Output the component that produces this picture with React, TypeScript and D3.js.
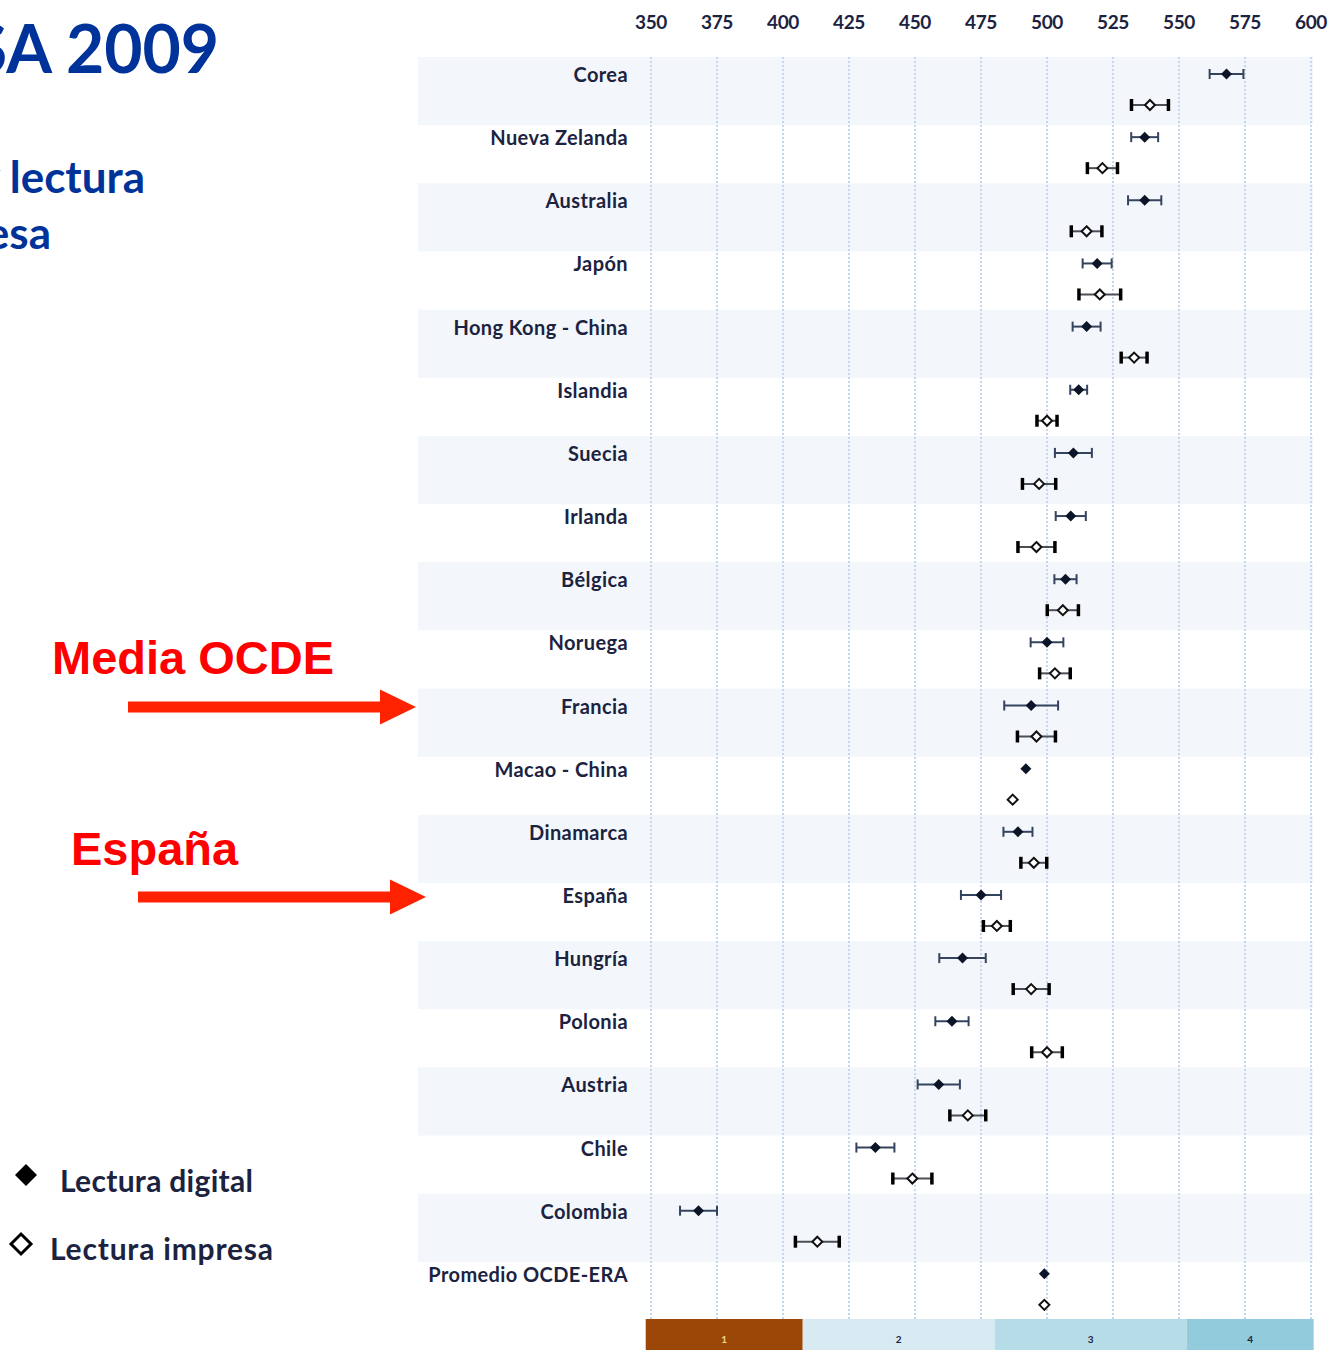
import React from "react";
import * as d3 from "d3";

// países (de arriba a abajo)
const countries = [
  "Corea", "Nueva Zelanda", "Australia", "Japón", "Hong Kong - China",
  "Islandia", "Suecia", "Irlanda", "Bélgica", "Noruega", "Francia",
  "Macao - China", "Dinamarca", "España", "Hungría", "Polonia", "Austria",
  "Chile", "Colombia", "Promedio OCDE-ERA",
];

// lectura digital: media y semiamplitud del intervalo
const digitalMean = [568, 537, 537, 519, 515, 512, 510, 509, 507, 500, 494, 492, 489, 475, 468, 464, 459, 435, 368, 499];
const digitalErr = [6.4, 5.1, 6.3, 5.5, 5.3, 3.2, 7.0, 5.7, 4.2, 6.2, 10.2, 0.6, 5.5, 7.6, 8.8, 6.3, 8.0, 7.2, 7.0, 0.6];

// lectura impresa
const printMean = [539, 521, 515, 520, 533, 500, 497, 496, 506, 503, 496, 487, 495, 481, 494, 500, 470, 449, 413, 499];
const printErr = [7.0, 5.7, 5.8, 7.9, 4.9, 3.8, 6.3, 7.0, 5.9, 5.8, 7.2, 1.0, 4.9, 5.1, 6.8, 5.8, 6.8, 7.4, 8.3, 0.6];

const ticks = [350, 375, 400, 425, 450, 475, 500, 525, 550, 575, 600];

// niveles de competencia (límites) y colores
const levelBounds = [348, 407.47, 480.18, 552.89, 601];
const levelNames = ["1", "2", "3", "4"];
const levelColors = ["#9a4708", "#d8ebf3", "#b6dce7", "#91cbdc"];

const FONT = "Lato, 'Open Sans', sans-serif";
const NAVY = "#1c2340";

const App = () => {
  const x = d3.scaleLinear().domain([350, 600]).range([651, 1311]);
  const y = d3
    .scaleBand<string>()
    .domain(countries)
    .range([57, 57 + 63.15 * countries.length])
    .paddingInner(0)
    .paddingOuter(0);
  const step = y.step();
  const gridTop = 57;
  const gridBottom = 1320;

  const diamond = (cx: number, cy: number, r: number) =>
    `M${cx},${cy - r}L${cx + r},${cy}L${cx},${cy + r}L${cx - r},${cy}Z`;

  const arrow = (x0: number, x1: number, cy: number) => {
    const head = 36;
    const hw = 17.5;
    const sw = 5.5;
    return `M${x0},${cy - sw}L${x1 - head},${cy - sw}L${x1 - head},${cy - hw}L${x1},${cy}L${x1 - head},${cy + hw}L${x1 - head},${cy + sw}L${x0},${cy + sw}Z`;
  };

  return (
    <svg
      width={1335}
      height={1350}
      style={{ position: "absolute", left: 0, top: 0, background: "#fff" }}
    >
      {/* bandas alternas */}
      {countries.map((c, i) =>
        i % 2 === 0 ? (
          <rect key={c} x={418} y={y(c)} width={1313 - 418} height={step * 1.08} fill="#f3f7fb" />
        ) : null
      )}

      {/* líneas de cuadrícula */}
      {ticks.map((t) => (
        <line
          key={t}
          x1={x(t)}
          x2={x(t)}
          y1={gridTop}
          y2={gridBottom}
          stroke="#c6d6ec"
          strokeWidth={2}
          strokeDasharray="2,2"
        />
      ))}

      {/* etiquetas del eje superior */}
      {ticks.map((t) => (
        <text
          key={"t" + t}
          x={x(t)}
          y={29}
          textAnchor="middle"
          fontFamily={FONT}
          fontWeight={700}
          fontSize={19}
          fill={NAVY}
          letterSpacing={-0.3}
        >
          {t}
        </text>
      ))}

      {/* nombres de países */}
      {countries.map((c) => (
        <text
          key={"l" + c}
          x={628}
          y={(y(c) as number) + 25}
          textAnchor="end"
          fontFamily={FONT}
          fontWeight={700}
          fontSize={20}
          fill={NAVY}
          letterSpacing={0.4}
        >
          {c}
        </text>
      ))}

      {/* lectura impresa */}
      {countries.map((c, i) => {
        const cy = (y(c) as number) + 48;
        const lo = x(printMean[i] - printErr[i]);
        const hi = x(printMean[i] + printErr[i]);
        const cx = x(printMean[i]);
        return (
          <g key={"p" + c}>
            <line x1={lo} x2={hi} y1={cy} y2={cy} stroke="#4a4f58" strokeWidth={2} />
            {printErr[i] > 1.5 && (
              <>
                <line x1={lo} x2={lo} y1={cy - 6} y2={cy + 6} stroke="#000" strokeWidth={3.5} />
                <line x1={hi} x2={hi} y1={cy - 6} y2={cy + 6} stroke="#000" strokeWidth={3.5} />
              </>
            )}
            <path d={diamond(cx, cy, 5)} fill="#fff" stroke="#111" strokeWidth={2} />
          </g>
        );
      })}

      {/* lectura digital */}
      {countries.map((c, i) => {
        const cy = (y(c) as number) + 17;
        const lo = x(digitalMean[i] - digitalErr[i]);
        const hi = x(digitalMean[i] + digitalErr[i]);
        const cx = x(digitalMean[i]);
        return (
          <g key={"d" + c}>
            <line x1={lo} x2={hi} y1={cy} y2={cy} stroke="#34435e" strokeWidth={2} />
            {digitalErr[i] > 1.5 && (
              <>
                <line x1={lo} x2={lo} y1={cy - 5} y2={cy + 5} stroke="#34435e" strokeWidth={2} />
                <line x1={hi} x2={hi} y1={cy - 5} y2={cy + 5} stroke="#34435e" strokeWidth={2} />
              </>
            )}
            <path d={diamond(cx, cy, 5.5)} fill="#0c1528" />
          </g>
        );
      })}

      {/* barra de niveles */}
      {levelNames.map((n, i) => {
        const x0 = x(levelBounds[i]);
        const x1 = x(levelBounds[i + 1]);
        return (
          <g key={"lv" + n}>
            <rect x={x0} y={1319} width={x1 - x0} height={31} fill={levelColors[i]} />
            <text
              x={(x0 + x1) / 2}
              y={1343}
              textAnchor="middle"
              fontFamily={FONT}
              fontWeight={700}
              fontSize={10}
              fill={i === 0 ? "#f3d58a" : NAVY}
            >
              {n}
            </text>
          </g>
        );
      })}

      {/* título (recortado a la izquierda, como en el original) */}
      <text x={219} y={73} textAnchor="end" fontFamily={FONT} fontWeight={700} fontSize={66} fill="#003399">
        PISA 2009
      </text>
      <text x={145} y={193} textAnchor="end" fontFamily={FONT} fontWeight={700} fontSize={44} fill="#003399">
        Lectura digital y lectura
      </text>
      <text x={51} y={249} textAnchor="end" fontFamily={FONT} fontWeight={700} fontSize={44} fill="#003399">
        impresa
      </text>

      {/* anotaciones */}
      <text x={52} y={674} fontFamily="'Liberation Sans', Arial, sans-serif" fontWeight={700} fontSize={47} fill="#ff0000">
        Media OCDE
      </text>
      <path d={arrow(128, 416, 707)} fill="#ff2200" />
      <text x={71} y={865} fontFamily="'Liberation Sans', Arial, sans-serif" fontWeight={700} fontSize={47} fill="#ff0000">
        España
      </text>
      <path d={arrow(138, 426, 897)} fill="#ff2200" />

      {/* leyenda */}
      <path d={diamond(26, 1175, 11)} fill="#000" />
      <text x={60} y={1192} fontFamily={FONT} fontWeight={700} fontSize={30} fill={NAVY} letterSpacing={0.3}>
        Lectura digital
      </text>
      <path d={diamond(21, 1244, 10)} fill="#fff" stroke="#000" strokeWidth={3} />
      <text x={50} y={1260} fontFamily={FONT} fontWeight={700} fontSize={30} fill={NAVY} letterSpacing={0.8}>
        Lectura impresa
      </text>
    </svg>
  );
};

export default App;
